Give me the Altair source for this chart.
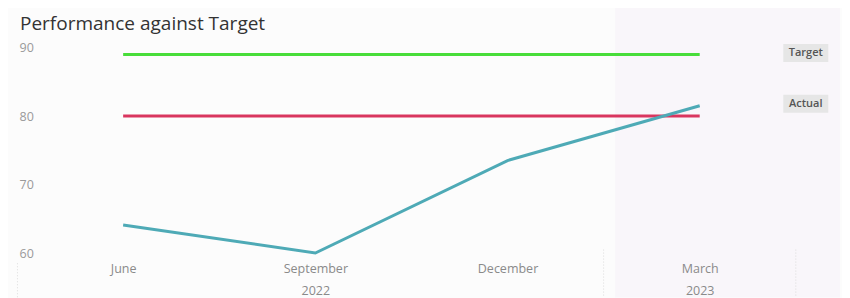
import altair as alt
import pandas as pd

quarters = [0, 1, 2, 3]
months = ["June", "September", "December", "March"]
years = ["", "2022", "", "2023"]
actual = [64.1, 60.0, 73.5, 81.5]
target = [89.0, 89.0, 89.0, 89.0]
threshold = [80.0, 80.0, 80.0, 80.0]

X_DOMAIN = [-0.417, 3.73]
Y_DOMAIN = [59.27, 91.1]

df = pd.DataFrame({"q": quarters, "month": months, "actual": actual,
                   "target": target, "threshold": threshold})

xs = alt.Scale(domain=X_DOMAIN, nice=False, zero=False)
ys = alt.Scale(domain=Y_DOMAIN, nice=False, zero=False)

label_expr = ("[['June',''],['September','2022'],['December',''],['March','2023']]"
              "[datum.value]")

xaxis = alt.Axis(values=quarters, labelExpr=label_expr, domain=False, ticks=False,
                 grid=False, title=None, labelColor="#8a8a8a", labelFontSize=12.5,
                 labelFont="Open Sans", labelPadding=4, labelLineHeight=22, zindex=2)
yaxis = alt.Axis(values=[60, 70, 80, 90], domain=False, ticks=False, grid=False,
                 title=None, labelColor="#9a9a9a", labelFontSize=12.5,
                 labelFont="Open Sans", labelAlign="left", labelPadding=24, zindex=2)

shade = alt.Chart(pd.DataFrame({"x": [2.56], "x2": [3.73], "y": [96.5], "y2": [53.5]})).mark_rect(
    color="#f9f6fa", clip=False).encode(
    x=alt.X("x:Q", scale=xs, axis=xaxis), x2="x2:Q",
    y=alt.Y("y:Q", scale=ys, axis=yaxis), y2="y2:Q")

seps = alt.Chart(pd.DataFrame({"x": [-0.55, 2.5, 3.5], "y": [58.5, 60.5, 60.5], "y2": [53.5, 53.5, 53.5]})).mark_rule(
    color="#dcdcdc", strokeDash=[1, 2], clip=False).encode(
    x=alt.X("x:Q", scale=xs), y=alt.Y("y:Q", scale=ys), y2="y2:Q")

base = alt.Chart(df)
tline = base.mark_line(color="#48dd3a", strokeWidth=3).encode(
    x=alt.X("q:Q", scale=xs), y=alt.Y("target:Q", scale=ys))
rline = base.mark_line(color="#d9365f", strokeWidth=3).encode(
    x=alt.X("q:Q", scale=xs), y=alt.Y("threshold:Q", scale=ys))
aline = base.mark_line(color="#4eaab6", strokeWidth=3).encode(
    x=alt.X("q:Q", scale=xs), y=alt.Y("actual:Q", scale=ys))

lab = pd.DataFrame({"x": [3.552, 3.552], "y": [target[-1] + 0.2, actual[-1] + 0.3],
                    "t": ["Target", "Actual"]})
boxes = alt.Chart(lab).mark_rect(width=45, height=18, color="#e6e6e6", clip=False).encode(
    x=alt.X("x:Q", scale=xs), y=alt.Y("y:Q", scale=ys))
texts = alt.Chart(lab).mark_text(font="Open Sans", fontSize=11, fontWeight=600,
                                  color="#555555", clip=False).encode(
    x=alt.X("x:Q", scale=xs), y=alt.Y("y:Q", scale=ys), text="t:N")

chart = alt.layer(shade, seps, tline, rline, aline, boxes, texts).properties(
    width=797, height=218,
    title=alt.TitleParams("Performance against Target", anchor="start", frame="group",
                          font="Open Sans", fontSize=19, fontWeight="normal",
                          color="#333333", dx=-23, dy=41, offset=10),
    autosize=alt.AutoSizeParams(type="none"),
    padding={"left": 35, "top": 32, "right": 2, "bottom": 40},
    background="#fcfcfc",
).configure_view(stroke=None)

chart.save("out.html", embed_options={"renderer": "svg", "actions": False})
